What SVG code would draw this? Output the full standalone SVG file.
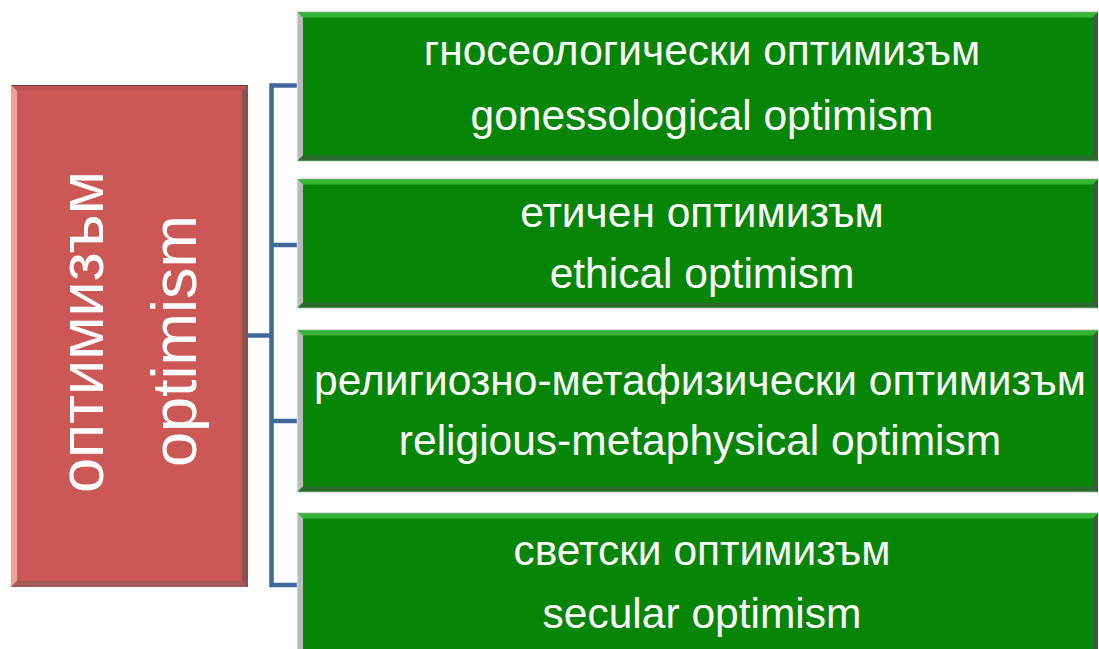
<svg xmlns="http://www.w3.org/2000/svg" width="1099" height="649" viewBox="0 0 1099 649">
  <style>
    .t { font-family: "Liberation Sans", Arial, sans-serif; fill: #ffffff; text-anchor: middle; }
    .g { font-size: 42.5px; }
    .r { font-size: 63px; }
    .halo { fill: none; stroke: #d6d6d6; stroke-width: 1.5; }
    .gfill { fill: #078507; }
    .gtop { fill: #36b636; }
    .gleft { fill: #b9b9b9; }
    .gright { fill: #3c5c3c; }
    .gbot { fill: #2b6b2b; }
    .conn { fill: none; stroke: #41689c; stroke-width: 4.5; }
  </style>
  <rect width="1099" height="649" fill="#ffffff"/>

  <g id="connectors">
    <path class="conn" d="M297,85.5 H271.5 V585 H297"/>
    <path class="conn" d="M271.5,245 H297"/>
    <path class="conn" d="M271.5,421 H297"/>
    <path class="conn" d="M248,335.5 H271.5"/>
  </g>

  <g id="root">
    <rect x="11" y="85" width="237" height="502" fill="#cc5855"/>
    <polygon points="11,85 248,85 242,91 17,91" fill="#c0524f"/>
    <line x1="11" y1="85.5" x2="248" y2="85.5" stroke="#6e3c3c" stroke-width="1"/>
    <polygon points="11,85 17,91 17,581 11,587" fill="#f2a09c"/>
    <polygon points="248,85 248,587 242,581 242,91" fill="#8e4f4f"/>
    <polygon points="11,587 248,587 242,581 17,581" fill="#a25b5b"/>
    <text class="t r" transform="translate(103,332) rotate(-90)">оптимизъм</text>
    <text class="t r" transform="translate(196,341) rotate(-90)">optimism</text>
  </g>

  <g id="n1">
    <rect class="halo" x="297.5" y="12" width="802" height="149"/>
    <rect class="gfill" x="298" y="12.5" width="800" height="148"/>
    <polygon class="gtop" points="298,12.5 1098,12.5 1093,17.5 303,17.5"/>
    <polygon class="gleft" points="298,12.5 303,17.5 303,155.5 298,160.5"/>
    <polygon class="gright" points="1098,12.5 1098,160.5 1093,155.5 1093,17.5"/>
    <polygon class="gbot" points="298,160.5 1098,160.5 1093,155.5 303,155.5"/>
    <text class="t g" x="702" y="65">гносеологически оптимизъм</text>
    <text class="t g" x="702" y="130">gonessological optimism</text>
  </g>

  <g id="n2">
    <rect class="halo" x="297.5" y="179" width="802" height="129"/>
    <rect class="gfill" x="298" y="179.5" width="800" height="128"/>
    <polygon class="gtop" points="298,179.5 1098,179.5 1093,184.5 303,184.5"/>
    <polygon class="gleft" points="298,179.5 303,184.5 303,302.5 298,307.5"/>
    <polygon class="gright" points="1098,179.5 1098,307.5 1093,302.5 1093,184.5"/>
    <polygon class="gbot" points="298,307.5 1098,307.5 1093,302.5 303,302.5"/>
    <text class="t g" x="702" y="227">етичен оптимизъм</text>
    <text class="t g" x="702" y="288">ethical optimism</text>
  </g>

  <g id="n3">
    <rect class="halo" x="297.5" y="330" width="802" height="162"/>
    <rect class="gfill" x="298" y="330.5" width="800" height="161"/>
    <polygon class="gtop" points="298,330.5 1098,330.5 1093,335.5 303,335.5"/>
    <polygon class="gleft" points="298,330.5 303,335.5 303,486.5 298,491.5"/>
    <polygon class="gright" points="1098,330.5 1098,491.5 1093,486.5 1093,335.5"/>
    <polygon class="gbot" points="298,491.5 1098,491.5 1093,486.5 303,486.5"/>
    <text class="t g" x="700" y="395">религиозно-метафизически оптимизъм</text>
    <text class="t g" x="700" y="455">religious-metaphysical optimism</text>
  </g>

  <g id="n4">
    <rect class="halo" x="297.5" y="513" width="802" height="150"/>
    <rect class="gfill" x="298" y="513.5" width="800" height="150"/>
    <polygon class="gtop" points="298,513.5 1098,513.5 1093,518.5 303,518.5"/>
    <polygon class="gleft" points="298,513.5 303,518.5 303,663 298,663"/>
    <polygon class="gright" points="1098,513.5 1098,663 1093,663 1093,518.5"/>
    <text class="t g" x="702" y="565">светски оптимизъм</text>
    <text class="t g" x="702" y="628">secular optimism</text>
  </g>
</svg>
